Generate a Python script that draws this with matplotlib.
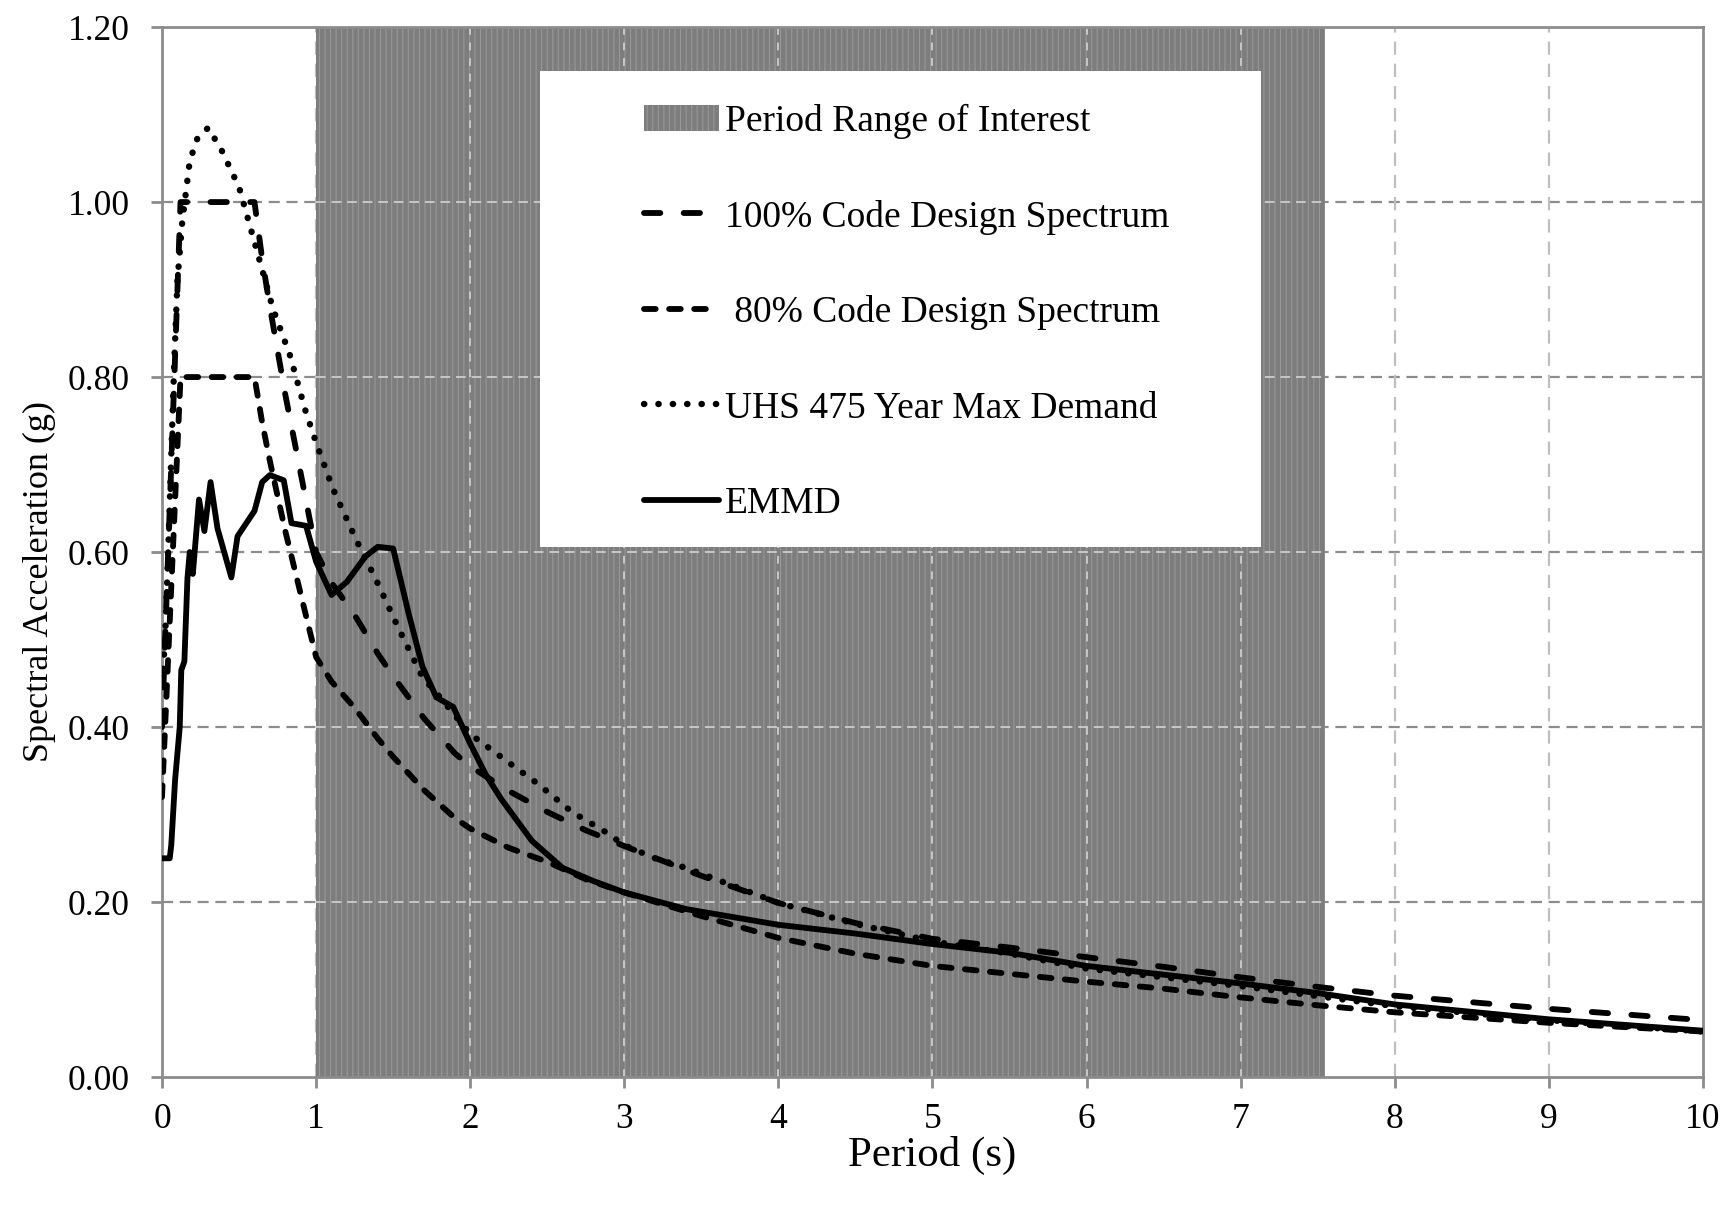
import numpy as np
import matplotlib
matplotlib.use('Agg')
import matplotlib.pyplot as plt
from matplotlib.patches import Patch, Rectangle
from matplotlib.lines import Line2D
from matplotlib.ticker import FormatStrFormatter

plt.rcParams['font.family'] = ['Liberation Serif', 'DejaVu Serif']
plt.rcParams['hatch.linewidth'] = 0.8

# period range of interest (s), drawn as a band of columns
range_start = 1.0
range_end = 7.55

# EMMD spectrum
period_emmd = [0.0, 0.05, 0.06, 0.085, 0.115, 0.125, 0.145, 0.165, 0.18, 0.20, 0.24,
               0.275, 0.315, 0.36, 0.45, 0.49, 0.60, 0.65, 0.70, 0.79, 0.84, 0.935,
               1.0, 1.1, 1.2, 1.32, 1.4, 1.5, 1.6, 1.69, 1.78, 1.89, 2.0, 2.1, 2.2,
               2.4, 2.6, 2.8, 3.0, 3.4, 4.0, 4.5, 5.0, 5.5, 6.0, 7.0, 7.5, 8.0, 9.0, 10.0]
sa_emmd = [0.25, 0.25, 0.265, 0.34, 0.40, 0.465, 0.475, 0.57, 0.60, 0.575, 0.66,
           0.624, 0.68, 0.627, 0.571, 0.618, 0.647, 0.68, 0.688, 0.682, 0.633, 0.63,
           0.589, 0.551, 0.566, 0.595, 0.606, 0.604, 0.53, 0.469, 0.434, 0.423, 0.381,
           0.346, 0.318, 0.270, 0.239, 0.224, 0.211, 0.192, 0.174, 0.164, 0.152, 0.142,
           0.127, 0.107, 0.096, 0.083, 0.066, 0.053]

# code design spectrum, 100% and 80%
period_code = [0.0, 0.12, 0.6, 0.65, 0.7, 0.8, 0.9, 1.0, 1.1, 1.25, 1.4, 1.5, 1.7,
               1.9, 2.0, 2.25, 2.5, 2.75, 3.0, 3.5, 4.0, 4.5, 5.0, 5.5, 6.0, 6.5,
               7.0, 7.5, 8.0, 9.0, 10.0]
sa_code_100 = [0.40, 1.0, 1.0, 0.935, 0.88, 0.78, 0.69, 0.60, 0.565, 0.528, 0.484,
               0.458, 0.41, 0.37, 0.355, 0.327, 0.303, 0.282, 0.264, 0.23, 0.199,
               0.176, 0.158, 0.148, 0.137, 0.126, 0.114, 0.103, 0.093, 0.078, 0.065]
sa_code_80 = [0.32, 0.8, 0.8, 0.748, 0.704, 0.624, 0.552, 0.48, 0.452, 0.422, 0.387,
              0.366, 0.328, 0.296, 0.284, 0.262, 0.246, 0.226, 0.211, 0.184, 0.159,
              0.141, 0.127, 0.118, 0.109, 0.101, 0.091, 0.082, 0.074, 0.062, 0.052]

# uniform hazard spectrum, 475 year
period_uhs = [0.0, 0.02, 0.04, 0.06, 0.08, 0.10, 0.13, 0.18, 0.23, 0.30, 0.39, 0.50,
              0.61, 0.72, 0.83, 0.93, 1.0, 1.11, 1.26, 1.39, 1.54, 1.69, 1.8, 2.0,
              2.23, 2.44, 2.66, 2.87, 3.0, 3.2, 3.4, 4.0, 4.5, 5.0, 5.5, 6.0, 7.0,
              8.0, 9.0, 10.0]
sa_uhs = [0.45, 0.50, 0.60, 0.71, 0.82, 0.91, 0.975, 1.047, 1.073, 1.085, 1.058, 1.017,
          0.948, 0.878, 0.825, 0.762, 0.725, 0.672, 0.614, 0.568, 0.511, 0.457, 0.435,
          0.392, 0.362, 0.335, 0.303, 0.281, 0.265, 0.25, 0.239, 0.199, 0.175, 0.155,
          0.141, 0.124, 0.104, 0.081, 0.065, 0.052]

labels = ['Period Range of Interest', '100% Code Design Spectrum',
          ' 80% Code Design Spectrum', 'UHS 475 Year Max Demand', 'EMMD']

xticks = list(range(0, 11))
yticks = [0.0, 0.2, 0.4, 0.6, 0.8, 1.0, 1.2]

axis_grey = '#8c8c8c'
band_grey = '#7d7d7d'
lw = 4.2

fig = plt.figure(figsize=(17.31, 12.08), dpi=100)
ax = fig.add_axes([0.0936, 0.1084, 0.8902, 0.8692])
ax.set_xlim(0, 10)
ax.set_ylim(0, 1.2)

# gridlines
for y in yticks[1:-1]:
    ax.axhline(y, color=axis_grey, lw=1.6, ls=(0, (5, 3)), zorder=0)
for x in xticks[1:-1]:
    ax.axvline(x, color='#bfbfbf', lw=1.6, ls=(0, (6, 4)), zorder=0)

# shaded period band, gridlines show light through it
ax.axvspan(range_start, range_end, facecolor=band_grey, edgecolor='#979797',
           hatch='|||', lw=0, zorder=1)
for y in yticks[1:-1]:
    ax.plot([range_start, range_end], [y, y], color='#c8c8c8', lw=1.4,
            ls=(0, (5, 3)), zorder=1.5)
for x in xticks:
    if range_start < x < range_end:
        ax.axvline(x, color='#c8c8c8', lw=1.4, ls=(0, (4, 4)), zorder=1.5)

style_100 = dict(color='black', lw=lw, dashes=(2.8, 4.0), dash_capstyle='round')
style_80 = dict(color='black', lw=lw, dashes=(2.0, 2.3), dash_capstyle='round')
style_uhs = dict(color='black', lw=4.6, dashes=(0.05, 2.2), dash_capstyle='round')
style_emmd = dict(color='black', lw=lw, solid_capstyle='round', solid_joinstyle='round')

ax.plot(period_code, sa_code_100, zorder=3, **style_100)
ax.plot(period_code, sa_code_80, zorder=3, **style_80)
ax.plot(period_uhs, sa_uhs, zorder=3, **style_uhs)
ax.plot(period_emmd, sa_emmd, zorder=3, **style_emmd)

# axes styling
for side in ['left', 'bottom', 'right', 'top']:
    ax.spines[side].set_color(axis_grey)
    ax.spines[side].set_linewidth(2)
ax.set_xticks(xticks)
ax.set_yticks(yticks)
ax.yaxis.set_major_formatter(FormatStrFormatter('%.2f'))
ax.tick_params(direction='out', length=8, width=2, color=axis_grey, labelsize=25.5)
ax.tick_params(axis='x', pad=11)
ax.tick_params(axis='y', pad=15)

ax.set_xlabel('Period (s)', fontsize=31, va='center')
ax.xaxis.set_label_coords(0.5, -0.075)
ax.set_ylabel('Spectral Acceleration (g)', fontsize=26, va='center')
ax.yaxis.set_label_coords(-0.0798, 0.4715)

# legend on a white panel
ax.add_patch(Rectangle((0.245, 0.505), 0.468, 0.453, transform=ax.transAxes,
                       facecolor='white', edgecolor='none', zorder=4))
handles = [Patch(facecolor=band_grey, edgecolor='#979797', hatch='|||', lw=0),
           Line2D([], [], **style_100),
           Line2D([], [], **style_80),
           Line2D([], [], **style_uhs),
           Line2D([], [], **style_emmd)]
leg = ax.legend(handles, labels, loc='upper left', bbox_to_anchor=(0.3128, 0.927),
                frameon=False, fontsize=27, handlelength=2.0, handletextpad=0.15,
                labelspacing=1.62, borderpad=0, borderaxespad=0)
leg.set_zorder(5)

fig.savefig('out.png', dpi=100)
